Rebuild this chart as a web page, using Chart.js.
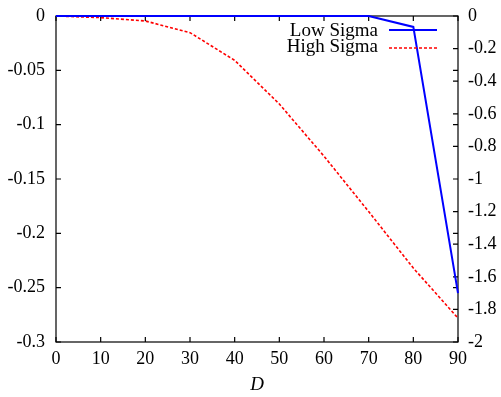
<!DOCTYPE html>
<html>
<head>
<meta charset="utf-8">
<script src="https://cdn.jsdelivr.net/npm/chart.js@4"></script>
<style>
    html, body { margin: 0; padding: 0; background: #fff; }
    #wrap { width: 501px; height: 397px; }
</style>
</head>
<body>
<div id="wrap"><canvas id="chart"></canvas></div>
<script>
// data
const dValues = [0, 10, 20, 30, 40, 50, 60, 70, 80, 90];
const lowSigma = [0, 0, 0, 0, 0, 0, 0, 0, -0.067, -1.70]; // right axis
const highSigma = [0, -0.0015, -0.0046, -0.0153, -0.0408, -0.081, -0.129, -0.18, -0.232, -0.278]; // left axis
const seriesLabels = ['Low Sigma', 'High Sigma'];

const FONT = 'Liberation Serif';
const fmt = (v) => String(+v.toFixed(3));

// gnuplot-like frame with inward ticks on all four sides
const framePlugin = {
    id: 'frame',
    beforeDatasetsDraw(chart) {
        const { ctx, chartArea: a, scales } = chart;
        ctx.save();
        ctx.strokeStyle = '#000';
        ctx.lineWidth = 1.2;
        ctx.strokeRect(a.left, a.top, a.right - a.left, a.bottom - a.top);
        const tl = 5;
        ctx.beginPath();
        scales.x.ticks.forEach((t) => {
            const px = scales.x.getPixelForValue(t.value);
            ctx.moveTo(px, a.bottom);
            ctx.lineTo(px, a.bottom - tl);
            ctx.moveTo(px, a.top);
            ctx.lineTo(px, a.top + tl);
        });
        scales.y.ticks.forEach((t) => {
            const py = scales.y.getPixelForValue(t.value);
            ctx.moveTo(a.left, py);
            ctx.lineTo(a.left + tl, py);
            ctx.moveTo(a.right, py);
            ctx.lineTo(a.right - tl, py);
        });
        scales.y2.ticks.forEach((t) => {
            const py = scales.y2.getPixelForValue(t.value);
            ctx.moveTo(a.right, py);
            ctx.lineTo(a.right - tl, py);
        });
        ctx.stroke();
        ctx.restore();
    },
    afterDraw(chart) {
        // key: text right-aligned, line sample on its right
        const { ctx } = chart;
        const textRight = 378;
        const x0 = 389, x1 = 437;
        const rows = [31, 47];
        ctx.save();
        ctx.font = '19px "' + FONT + '"';
        ctx.textAlign = 'right';
        ctx.textBaseline = 'middle';
        chart.data.datasets.forEach((ds, i) => {
            ctx.fillStyle = '#000';
            ctx.fillText(ds.label, textRight, rows[i]);
            ctx.strokeStyle = ds.borderColor;
            ctx.lineWidth = ds.borderWidth;
            ctx.setLineDash(ds.borderDash || []);
            ctx.beginPath();
            ctx.moveTo(x0, rows[i] + (i ? 1 : -1));
            ctx.lineTo(x1, rows[i] + (i ? 1 : -1));
            ctx.stroke();
        });
        ctx.restore();
    },
};

const tickFont = { family: FONT, size: 18 };

// fixed axis sizes so the plot box lands where the reference has it
const fixV = (w) => (s) => { s.width = w; s.paddingTop = 0; s.paddingBottom = 0; };

new Chart(document.getElementById('chart'), {
    type: 'line',
    data: {
        datasets: [
            {
                label: seriesLabels[0],
                data: dValues.map((d, i) => ({ x: d, y: lowSigma[i] })),
                yAxisID: 'y2',
                borderColor: '#0000ff',
                borderWidth: 2,
                pointRadius: 0,
                tension: 0,
                clip: 4,
            },
            {
                label: seriesLabels[1],
                data: dValues.map((d, i) => ({ x: d, y: highSigma[i] })),
                yAxisID: 'y',
                borderColor: '#ff0000',
                borderWidth: 1.6,
                borderDash: [3, 2],
                pointRadius: 0,
                tension: 0,
                clip: 4,
            },
        ],
    },
    options: {
        responsive: true,
        maintainAspectRatio: false,
        animation: false,
        layout: { padding: { top: 16, right: 0, left: 0, bottom: 0 } },
        plugins: {
            legend: { display: false },
            tooltip: { enabled: false },
        },
        scales: {
            x: {
                type: 'linear',
                min: 0,
                max: 90,
                grid: { display: false, drawTicks: false, tickLength: 0 },
                border: { display: false },
                ticks: { stepSize: 10, color: '#000', font: tickFont, padding: 6, maxRotation: 0 },
                title: {
                    display: true,
                    text: 'D',
                    color: '#000',
                    font: { family: FONT, size: 19, style: 'italic' },
                    padding: { top: 0, bottom: 1 },
                },
                afterFit: (s) => { s.height = 55; s.paddingLeft = 0; s.paddingRight = 0; },
            },
            y: {
                position: 'left',
                min: -0.3,
                max: 0,
                grid: { display: false, drawTicks: false, tickLength: 0 },
                border: { display: false },
                ticks: { stepSize: 0.05, color: '#000', font: tickFont, padding: 11, callback: fmt },
                afterFit: fixV(56),
            },
            y2: {
                position: 'right',
                min: -2,
                max: 0,
                grid: { display: false, drawTicks: false, tickLength: 0 },
                border: { display: false },
                ticks: { stepSize: 0.2, color: '#000', font: tickFont, padding: 10, callback: fmt },
                afterFit: fixV(43),
            },
        },
    },
    plugins: [framePlugin],
});
</script>
</body>
</html>
